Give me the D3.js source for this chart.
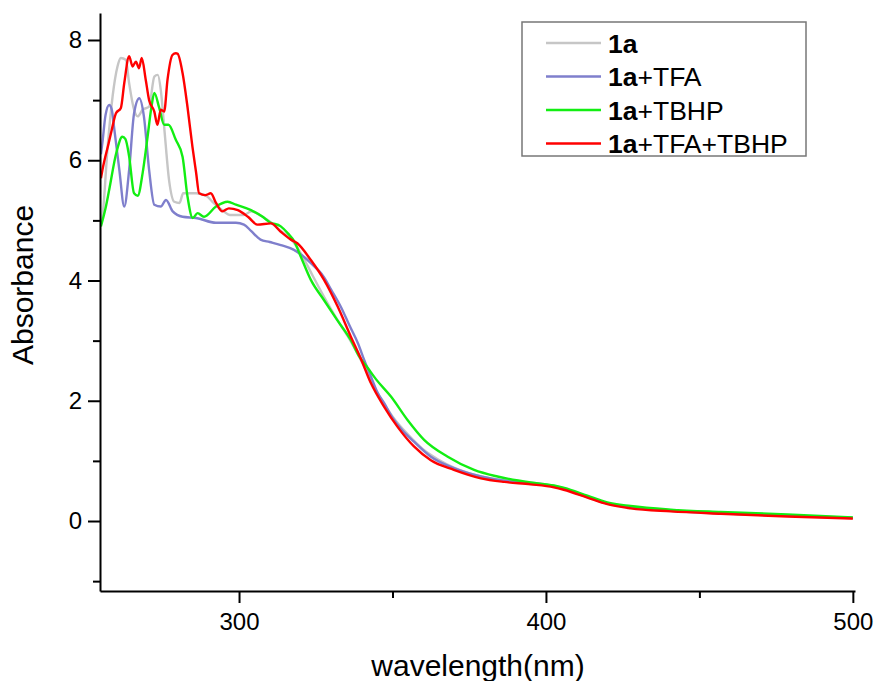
<!DOCTYPE html>
<html>
<head>
<meta charset="utf-8">
<script src="https://cdn.jsdelivr.net/npm/d3@7"></script>
<style>
  body { margin: 0; background: #fff; }
  text { font-family: "Liberation Sans", Arial, sans-serif; }
</style>
</head>
<body>
<svg id="chart" width="874" height="681"></svg>
<script>
// series values (wavelength in nm, absorbance)
const wl1a = [255, 255.5, 257.2, 258.8, 260.4, 261.5, 263.1, 264.2, 265.8, 267, 268.6, 270.7, 272.4, 273.5, 274.5, 275.6, 277.2, 278.9, 280.6, 281.8, 286, 289.5, 291.7, 295, 297, 301.5, 304, 307, 310, 313, 318, 320.5, 324, 328, 332, 336.5, 341.5, 346, 350, 355, 360, 365, 370, 380, 390, 400, 405, 410, 415, 420, 430, 440, 460, 480, 500];
const abs1a = [4.95, 5.07, 6.23, 7.06, 7.56, 7.70, 7.67, 7.28, 6.84, 6.73, 6.84, 6.89, 7.39, 7.42, 7.17, 6.56, 5.67, 5.31, 5.29, 5.45, 5.45, 5.40, 5.29, 5.15, 5.09, 5.09, 5.15, 5.08, 4.98, 4.85, 4.62, 4.42, 4.08, 3.70, 3.35, 2.98, 2.50, 2.05, 1.74, 1.44, 1.19, 1.02, 0.89, 0.73, 0.66, 0.61, 0.56, 0.47, 0.37, 0.29, 0.21, 0.17, 0.12, 0.09, 0.055];

const wlTFA = [255, 255.5, 256.5, 257.7, 258.5, 259.4, 261, 262.6, 264.2, 265.8, 267.5, 269, 270.7, 272.4, 274.5, 276.2, 278.4, 281.6, 286, 292.5, 299, 301.6, 304, 307, 310, 313.6, 317.9, 320.5, 323.4, 327.6, 330, 333.2, 336, 338.7, 341, 343, 345, 347.3, 350, 353, 357, 362.5, 370, 378.8, 386.4, 395, 402.6, 405.8, 410, 413.5, 420, 427.6, 440.7, 457, 478.7, 500];
const absTFA = [6.1, 6.3, 6.75, 6.92, 6.85, 6.5, 5.84, 5.23, 5.84, 6.78, 7.03, 6.73, 5.84, 5.26, 5.23, 5.34, 5.15, 5.06, 5.04, 4.96, 4.96, 4.93, 4.82, 4.68, 4.64, 4.59, 4.51, 4.42, 4.29, 4.06, 3.85, 3.56, 3.25, 2.96, 2.65, 2.40, 2.15, 1.96, 1.72, 1.52, 1.32, 1.07, 0.88, 0.74, 0.67, 0.63, 0.58, 0.54, 0.46, 0.40, 0.29, 0.23, 0.17, 0.13, 0.085, 0.05];

const wlTBHP = [255, 256.5, 257.7, 260, 262, 263, 264.2, 265.8, 267, 268.6, 270.2, 271.5, 272.4, 274, 275.6, 277, 279.4, 281.6, 283.2, 284.9, 286.5, 288.6, 292.5, 296.3, 299, 303.9, 307.7, 310, 313.6, 316, 318, 320.1, 323.4, 327.6, 332, 336.4, 339, 341.9, 344.6, 349.5, 354.9, 360.3, 368, 376.6, 384.2, 395, 402.6, 406, 413.5, 420, 427.6, 440.7, 457, 478.7, 500];
const absTBHP = [4.9, 5.2, 5.51, 6.12, 6.39, 6.35, 6.06, 5.45, 5.41, 5.79, 6.39, 6.9, 7.12, 6.87, 6.59, 6.59, 6.34, 6.06, 5.40, 5.04, 5.12, 5.06, 5.23, 5.31, 5.26, 5.17, 5.06, 4.97, 4.90, 4.78, 4.65, 4.40, 4.01, 3.68, 3.34, 3.01, 2.75, 2.55, 2.36, 2.07, 1.68, 1.35, 1.07, 0.85, 0.74, 0.64, 0.59, 0.55, 0.42, 0.31, 0.25, 0.19, 0.15, 0.11, 0.06];

const wlBoth = [255, 255.5, 257.5, 258.5, 259.9, 261.5, 262.6, 264.2, 265.3, 266.4, 267.4, 268.3, 269.6, 270.7, 272.4, 273.4, 274.5, 275.6, 276.7, 278.3, 279.4, 280, 281.6, 283.2, 284.8, 286, 287, 289, 290.8, 292.5, 294.6, 296.7, 299.6, 302.9, 306, 310.4, 313.6, 316.9, 319, 323.4, 327.7, 332.1, 336.4, 339.7, 343, 347.3, 351.6, 357, 362.5, 370, 378.8, 386.4, 395, 402.6, 405.8, 413.5, 420, 427.6, 440.7, 457, 478.7, 500];
const absBoth = [5.7, 5.84, 6.28, 6.5, 6.78, 6.87, 7.28, 7.73, 7.56, 7.64, 7.53, 7.70, 7.34, 7.00, 6.81, 6.59, 6.84, 6.81, 7.34, 7.75, 7.78, 7.77, 7.45, 6.89, 6.23, 5.80, 5.45, 5.42, 5.45, 5.29, 5.15, 5.20, 5.17, 5.06, 4.93, 4.95, 4.81, 4.68, 4.62, 4.34, 4.01, 3.57, 3.07, 2.70, 2.29, 1.90, 1.57, 1.24, 1.01, 0.85, 0.71, 0.65, 0.61, 0.56, 0.52, 0.39, 0.28, 0.21, 0.16, 0.12, 0.075, 0.04];

const seriesNames = ["1a", "1a+TFA", "1a+TBHP", "1a+TFA+TBHP"];
const seriesColors = ["#c6c6c6", "#7f7fcc", "#12ee12", "#ff0000"];
const xTicks = [300, 400, 500];
const xMinorTicks = [350, 450];
const yTicks = [0, 2, 4, 6, 8];
const yMinorTicks = [-1, 1, 3, 5, 7];

const series = [
  [wl1a, abs1a],
  [wlTFA, absTFA],
  [wlTBHP, absTBHP],
  [wlBoth, absBoth]
].map(([w, a], i) => ({
  name: seriesNames[i],
  color: seriesColors[i],
  points: w.map((x, j) => [x, a[j]])
}));

const svg = d3.select("#chart");

const x = d3.scaleLinear().domain([254.7, 500.7]).range([100, 855]);
const y = d3.scaleLinear().domain([-1.164, 8.449]).range([591, 13]);

// curves
svg.append("clipPath").attr("id", "plot-clip")
  .append("rect").attr("x", 100).attr("y", 13).attr("width", 755).attr("height", 578);

const line = d3.line()
  .x(d => x(d[0]))
  .y(d => y(d[1]))
  .curve(d3.curveMonotoneX);

svg.append("g").attr("clip-path", "url(#plot-clip)")
  .selectAll("path")
  .data(series)
  .join("path")
  .attr("fill", "none")
  .attr("stroke", d => d.color)
  .attr("stroke-width", 2.4)
  .attr("stroke-linejoin", "round")
  .attr("d", d => line(d.points));

// axes
function styleAxis(g) {
  g.select(".domain").attr("stroke", "#000").attr("stroke-width", 2);
  g.selectAll(".tick line").attr("stroke", "#000").attr("stroke-width", 2);
  g.selectAll(".tick text").attr("fill", "#000")
    .style("font-family", "'Liberation Sans', Arial, sans-serif")
    .style("font-size", "24px");
}

svg.append("g")
  .attr("transform", "translate(0,591)")
  .call(d3.axisBottom(x).tickValues(xTicks).tickSize(12).tickPadding(10).tickSizeOuter(0))
  .call(styleAxis);

svg.append("g")
  .attr("transform", "translate(0,591)")
  .call(d3.axisBottom(x).tickValues(xMinorTicks).tickSize(7).tickFormat("").tickSizeOuter(0))
  .call(styleAxis)
  .select(".domain").remove();

svg.append("g")
  .attr("transform", "translate(100,0)")
  .call(d3.axisLeft(y).tickValues(yTicks).tickSize(12).tickPadding(6).tickSizeOuter(0))
  .call(styleAxis);

svg.append("g")
  .attr("transform", "translate(100,0)")
  .call(d3.axisLeft(y).tickValues(yMinorTicks).tickSize(7).tickFormat("").tickSizeOuter(0))
  .call(styleAxis)
  .select(".domain").remove();

// axis titles
svg.append("text")
  .attr("x", 478).attr("y", 676)
  .attr("text-anchor", "middle")
  .style("font-size", "30px")
  .text("wavelength(nm)");

svg.append("text")
  .attr("transform", "translate(33,285) rotate(-90)")
  .attr("text-anchor", "middle")
  .style("font-size", "30px")
  .text("Absorbance");

// legend
const legend = svg.append("g");
legend.append("rect")
  .attr("x", 522).attr("y", 22).attr("width", 284).attr("height", 134)
  .attr("fill", "#fff").attr("stroke", "#777").attr("stroke-width", 1.5);

const rows = legend.selectAll("g.row")
  .data(series)
  .join("g")
  .attr("class", "row")
  .attr("transform", (d, i) => `translate(0,${43 + i * 33.5})`);

rows.append("line")
  .attr("x1", 546).attr("x2", 601)
  .attr("stroke", d => d.color).attr("stroke-width", 2.4);

const labels = rows.append("text")
  .attr("x", 608).attr("dy", "0.36em")
  .style("font-size", "26.5px");
labels.append("tspan").style("font-weight", "bold").text("1a");
labels.append("tspan").text(d => d.name.slice(2));
</script>
</body>
</html>
